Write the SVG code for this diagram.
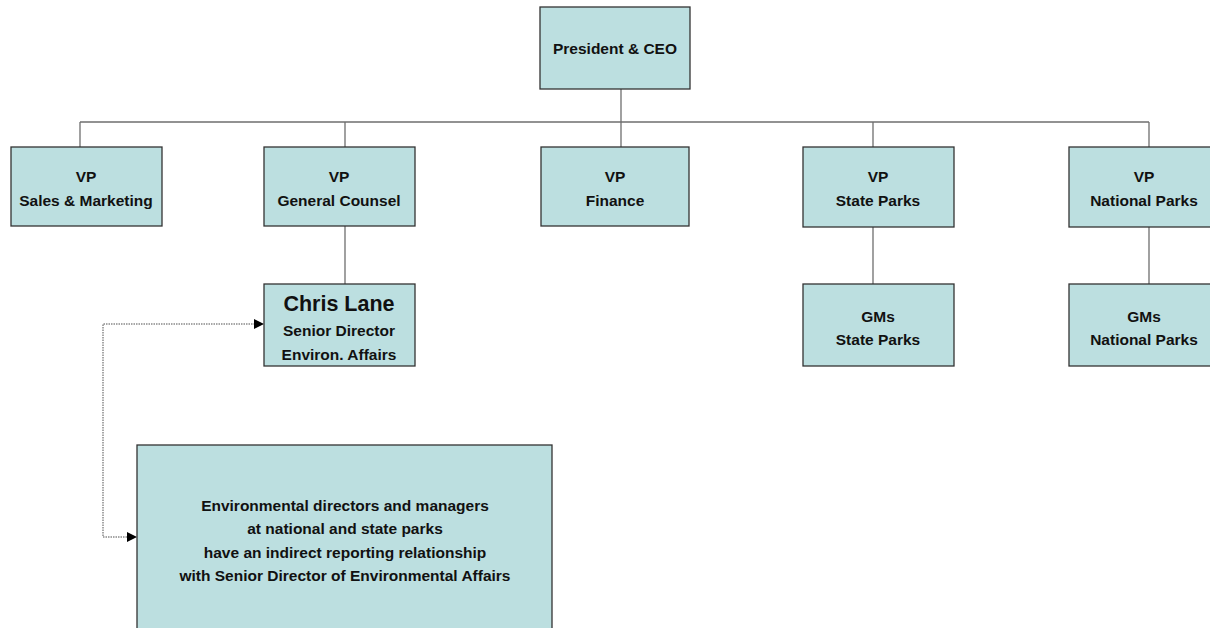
<svg xmlns="http://www.w3.org/2000/svg" width="1210" height="628" viewBox="0 0 1210 628">
<defs>
<style>
.box{fill:#bcdfe0;stroke:#333;stroke-width:1.3}
.t{font-family:"Liberation Sans",Arial,sans-serif;font-weight:bold;font-size:15.5px;fill:#111;text-anchor:middle}
.big{font-size:21.5px}
.c{stroke:#6e6e6e;stroke-width:1.3;fill:none}
.d{stroke:#8a8a8a;stroke-width:1.5;fill:none;stroke-dasharray:1.5 1}
</style>
<marker id="ah" viewBox="0 0 10 10" refX="10" refY="5" markerWidth="10" markerHeight="10" markerUnits="userSpaceOnUse" orient="auto">
<path d="M0,0 L10,5 L0,10 z" fill="#000"/>
</marker>
</defs>
<rect width="1210" height="628" fill="#fff"/>
<g id="connectors">
<path class="c" d="M621,89 V147"/>
<path class="c" d="M80,122 H1149"/>
<path class="c" d="M80,122 V147"/>
<path class="c" d="M345,122 V147"/>
<path class="c" d="M873,122 V147"/>
<path class="c" d="M1149,122 V147"/>
<path class="c" d="M345,226 V284"/>
<path class="c" d="M873,227 V284"/>
<path class="c" d="M1149,227 V284"/>
<path class="d" d="M255,324 H103 V537 H128"/>
<path d="M254,324 H264" stroke="none" marker-end="url(#ah)"/>
<path d="M127,537 H137" stroke="none" marker-end="url(#ah)"/>
</g>
<g id="ceo">
<rect class="box" x="540" y="7" width="150" height="82"/>
<text class="t" x="615" y="54">President &amp; CEO</text>
</g>
<g id="vp-sales">
<rect class="box" x="11" y="147" width="151" height="79"/>
<text class="t" x="86" y="182">VP</text>
<text class="t" x="86" y="206">Sales &amp; Marketing</text>
</g>
<g id="vp-counsel">
<rect class="box" x="264" y="147" width="151" height="79"/>
<text class="t" x="339" y="182">VP</text>
<text class="t" x="339" y="206">General Counsel</text>
</g>
<g id="vp-finance">
<rect class="box" x="541" y="147" width="148" height="79"/>
<text class="t" x="615" y="182">VP</text>
<text class="t" x="615" y="206">Finance</text>
</g>
<g id="vp-state">
<rect class="box" x="803" y="147" width="151" height="80"/>
<text class="t" x="878" y="182">VP</text>
<text class="t" x="878" y="206">State Parks</text>
</g>
<g id="vp-national">
<rect class="box" x="1069" y="147" width="151" height="80"/>
<text class="t" x="1144" y="182">VP</text>
<text class="t" x="1144" y="206">National Parks</text>
</g>
<g id="chris-lane">
<rect class="box" x="264" y="284" width="151" height="82"/>
<text class="t big" x="339" y="311">Chris Lane</text>
<text class="t" x="339" y="336">Senior Director</text>
<text class="t" x="339" y="360">Environ. Affairs</text>
</g>
<g id="gms-state">
<rect class="box" x="803" y="284" width="151" height="82"/>
<text class="t" x="878" y="322">GMs</text>
<text class="t" x="878" y="345">State Parks</text>
</g>
<g id="gms-national">
<rect class="box" x="1069" y="284" width="151" height="82"/>
<text class="t" x="1144" y="322">GMs</text>
<text class="t" x="1144" y="345">National Parks</text>
</g>
<g id="note">
<rect class="box" x="137" y="445" width="415" height="200"/>
<text class="t" x="345" y="511">Environmental directors and managers</text>
<text class="t" x="345" y="534">at national and state parks</text>
<text class="t" x="345" y="558">have an indirect reporting relationship</text>
<text class="t" x="345" y="581">with Senior Director of Environmental Affairs</text>
</g>
</svg>
